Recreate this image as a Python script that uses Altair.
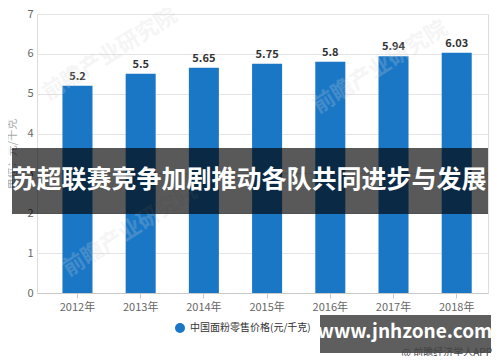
import altair as alt
import pandas as pd

years = ["2012年", "2013年", "2014年", "2015年", "2016年", "2017年", "2018年"]
values = [5.2, 5.5, 5.65, 5.75, 5.8, 5.94, 6.03]
series_name = "中国面粉零售价格(元/千克)"
y_title = "单位：元/千克"
y_ticks = [0, 1, 2, 3, 4, 5, 6, 7]
banner_text = ["苏超联赛竞争加剧推动各队共同进步与发展"]
badge_text = ["www.jnhzone.com"]
source_text = ["@ 前瞻经济学人APP"]
watermark_text = ["前瞻产业研究院"]

FONT = "Noto Sans CJK SC"
BLUE = "#1a77c6"

df = pd.DataFrame({"year": years, "value": values, "series": [series_name] * len(years)})

base = alt.Chart(df)

x_enc = alt.X(
    "year:N",
    sort=years,
    scale=alt.Scale(paddingInner=0.525, paddingOuter=0.33, align=0.61),
    axis=alt.Axis(
        title=None, labelAngle=0, labelFontSize=11, labelColor="#666",
        labelFont=FONT, domainColor="#c8c8c8", tickColor="#c8c8c8",
        tickSize=5, labelPadding=3, grid=False,
    ),
)
y_enc = alt.Y(
    "value:Q",
    scale=alt.Scale(domain=[0, 7], nice=False),
    axis=alt.Axis(
        values=y_ticks, tickCount=8, title=y_title, titleFontSize=11, titleColor="#aaa",
        titleFont=FONT, titleFontWeight="normal", titlePadding=9,
        labelFontSize=11, labelColor="#666", labelFont=FONT, labelPadding=4,
        domain=False, ticks=False, gridColor="#e4e4e4", format="d",
        labelOverlap=False,
    ),
)

bars = base.mark_bar().encode(
    x=x_enc,
    y=y_enc,
    color=alt.Color(
        "series:N",
        scale=alt.Scale(range=[BLUE]),
        legend=alt.Legend(
            orient="none", legendX=137, legendY=308, title=None,
            symbolType="circle", symbolSize=100, labelFontSize=10,
            labelColor="#333", labelFont=FONT, padding=0,
        ),
    ),
)

labels = base.mark_text(dy=-9, fontSize=11, fontWeight="bold", color="#333", font=FONT).encode(
    x=x_enc,
    y=y_enc,
    text=alt.Text("value:Q"),
)

wm_df = pd.DataFrame({"t": watermark_text})


def watermark(px, py):
    return alt.Chart(wm_df).mark_text(
        angle=328, fontSize=22, color="#d4d4d4", opacity=0.22, font=FONT, fontWeight="bold",
        align="center", baseline="middle",
    ).encode(text="t:N", x=alt.value(px), y=alt.value(py))


wm1 = watermark(73, 40)
wm2 = watermark(343, 53)
wm3 = watermark(93, 216)

banner_df = pd.DataFrame({"t": banner_text})
banner_rect = alt.Chart(banner_df).mark_rect(color="black", opacity=0.65).encode(
    x=alt.value(-25), x2=alt.value(451), y=alt.value(134), y2=alt.value(200)
)
banner_label = alt.Chart(banner_df).mark_text(
    color="white", fontSize=25, fontWeight="bold", font=FONT, align="center", baseline="middle"
).encode(text="t:N", x=alt.value(212), y=alt.value(166))

badge_df = pd.DataFrame({"t": badge_text})
badge_rect = alt.Chart(badge_df).mark_rect(color="black", opacity=0.63).encode(
    x=alt.value(283), x2=alt.value(454), y=alt.value(301), y2=alt.value(339)
)
badge_label = alt.Chart(badge_df).mark_text(
    color="white", fontSize=19, fontWeight="bold", font=FONT, align="center", baseline="middle"
).encode(text="t:N", x=alt.value(368), y=alt.value(318))

src_df = pd.DataFrame({"t": source_text})
src_label = alt.Chart(src_df).mark_text(
    color="#444", fontSize=10, font=FONT, align="right", baseline="middle"
).encode(text="t:N", x=alt.value(455), y=alt.value(339))

chart = alt.layer(
    bars, labels, wm1, wm2, wm3, banner_rect, banner_label, badge_rect, badge_label, src_label
).properties(
    width=451, height=279,
    autosize=alt.AutoSizeParams(type="none"),
    padding={"left": 29, "top": 6, "right": 4, "bottom": 63},
).configure_view(stroke=None).configure(background="white")

chart.save("out.html", embed_options={"renderer": "svg", "actions": False})
